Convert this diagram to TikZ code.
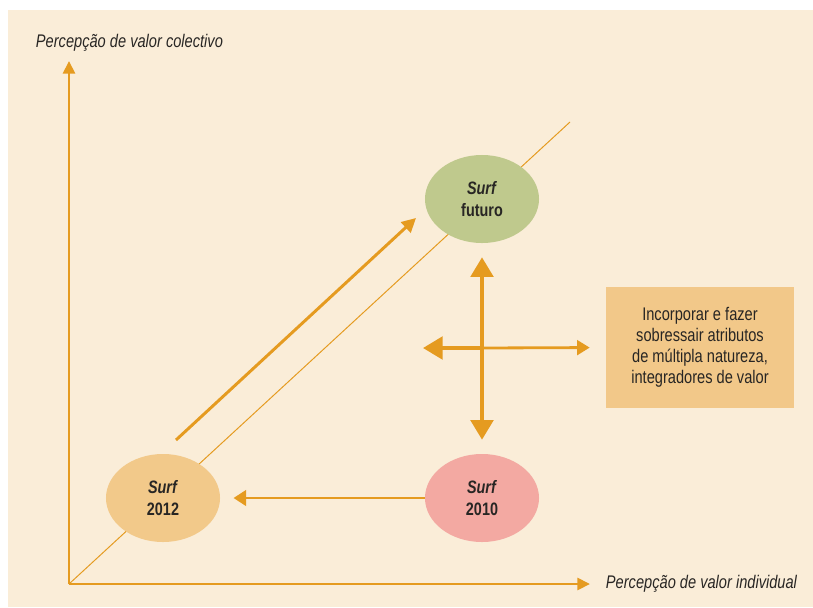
\documentclass[tikz,border=0pt]{standalone}
\usepackage{fontspec}
\setmainfont{Liberation Sans}[FakeStretch=0.8]
\usetikzlibrary{arrows.meta,shapes.geometric}
\definecolor{cream}{RGB}{250,237,216}
\definecolor{gold}{RGB}{229,155,32}
\definecolor{ink}{RGB}{40,38,36}
\definecolor{sage}{RGB}{191,201,141}
\definecolor{sand}{RGB}{242,201,138}
\definecolor{rose}{RGB}{243,169,162}
\definecolor{boxfill}{RGB}{242,200,137}

\begin{document}
\begin{tikzpicture}[x=0.025cm,y=-0.025cm,
    surf/.style={ellipse, minimum width=2.85cm, minimum height=2.2cm, inner sep=0pt,
      align=center, text=ink, font=\fontsize{12.8}{15.5}\selectfont\bfseries},
    axis/.style={gold, line width=2.1pt, -{Triangle[length=9pt,width=8.5pt]}},
    fat/.style={gold, line width=2.8pt},
    axislabel/.style={text=ink, font=\fontsize{13}{15}\selectfont\itshape}]
            \useasboundingbox (0,0) rectangle (813,607);
            \fill[white] (0,0) rectangle (813,607);
            \fill[cream] (8,10) rectangle (813,607);

            \coordinate (origin) at (69,584);
            \coordinate (ytip) at (69,61);
            \coordinate (xtip) at (590,584);
            \coordinate (diagend) at (570,122);

            \draw[gold, line width=0.7pt] (origin) -- (diagend);
            \draw[axis] (origin) -- (ytip);
            \draw[axis] (origin) -- (xtip);
            \node[axislabel, anchor=west] (ylabel) at (31,43) {Percepção de valor colectivo};
            \node[axislabel, anchor=west] (xlabel) at (601,584) {Percepção de valor individual};

            \node[surf, fill=sage] (futuro) at (482,199) {\textit{Surf}\\futuro};
            \node[surf, fill=sand] (s2012) at (163,498) {\textit{Surf}\\2012};
            \node[surf, fill=rose] (s2010) at (482,498) {\textit{Surf}\\2010};

            \node[rectangle, fill=boxfill, minimum width=4.7cm, minimum height=3.025cm,
              align=center, text=ink, font=\fontsize{13}{15}\selectfont] (atrib) at (700,347.5)
              {Incorporar e fazer\\sobressair atributos\\de múltipla natureza,\\integradores de valor};

            % setas
            \coordinate (diagstart) at (176,440);
            \coordinate (diagtip) at (416,218);
            \coordinate (cross) at (482,348);
            \coordinate (lefttip) at (423,348);

            \draw[gold, line width=2.1pt, -{Triangle[length=10pt,width=10pt]}] (diagstart) -- (diagtip);
            \draw[gold, line width=2.1pt, -{Triangle[length=9pt,width=11pt]}, shorten >=0.33cm]
              (s2010.west) -- (s2012.east);
            \draw[fat, {Triangle[length=14pt,width=16pt]}-{Triangle[length=14pt,width=16pt]},
              shorten <=0.35cm, shorten >=0.35cm] (futuro.south) -- (s2010.north);
            \draw[fat, -{Triangle[length=14pt,width=16pt]}] (cross) -- (lefttip);
            \draw[gold, line width=2pt, -{Triangle[length=9pt,width=10.5pt]}, shorten >=0.4cm]
              (cross) -- (atrib.west);
        \end{tikzpicture}
\end{document}
